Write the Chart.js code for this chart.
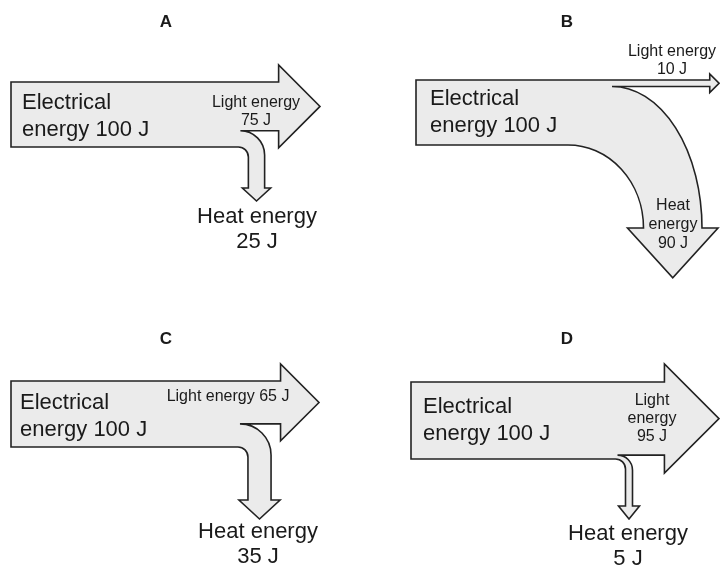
<!DOCTYPE html>
<html lang="en">
<head>
<meta charset="UTF-8">
<title>Energy transfer diagrams</title>
<script src="https://cdn.jsdelivr.net/npm/chart.js@4.4.0/dist/chart.umd.min.js"></script>
<style>
  html, body { margin: 0; padding: 0; background: #fff; }
  #wrap { width: 720px; height: 569px; position: relative; }
</style>
</head>
<body>
<div id="wrap"><canvas id="energyChart"></canvas></div>
<script>
// values (joules)
var titles = ["A", "B", "C", "D"];
var inputEnergy = [100, 100, 100, 100];
var lightEnergy = [75, 10, 65, 95];
var heatEnergy = [25, 90, 35, 5];
// how many lines each label is broken into
var lightLines = [2, 2, 1, 3];
var heatLines = [2, 3, 2, 2];

function labelLines(name, value, n) {
  if (n === 1) return [name + " energy " + value + " J"];
  if (n === 2) return [name + " energy", value + " J"];
  return [name, "energy", value + " J"];
}

// where each diagram sits, in chart units (x 0..720, y 0..569)
var layout = [
  { kind: "split", x0: 11, y0: 82, thick: 65, tipX: 320, flare: 17,
    heatCX: 256.5, heatEnd: 188, heatHead: 13, heatFlare: 6,
    title: [166, 21], inText: [22, 109], lightText: [256, 107, 16], heatText: [257, 223, 22] },
  { kind: "curve", x0: 416, y0: 80, thick: 65, tipX: 719, flare: 6,
    splitX: 612, bendX: 568, heatRight: 702, heatEnd: 228, heatFlare: 16,
    title: [567, 21], inText: [430, 105], lightText: [672, 56, 16], heatText: [673, 210, 16] },
  { kind: "split", x0: 11, y0: 381, thick: 66, tipX: 319, flare: 17,
    heatCX: 259.5, heatEnd: 500, heatHead: 19, heatFlare: 9,
    title: [166, 338], inText: [20, 409], lightText: [228, 401, 16], heatText: [258, 538, 22] },
  { kind: "split", x0: 411, y0: 382, thick: 77, tipX: 719, flare: 18,
    heatCX: 629, heatEnd: 506, heatHead: 13, heatFlare: 7,
    title: [567, 338], inText: [423, 413], lightText: [652, 405, 16], heatText: [628, 540, 22] }
];

var FONT = "'Liberation Sans', Arial, Helvetica, sans-serif";
var minShaft = 7;

var arrowPlugin = {
  id: "energyArrows",
  afterDraw: function (chart) {
    var ctx = chart.ctx, sx = chart.scales.x, sy = chart.scales.y;
    function X(v) { return sx.getPixelForValue(v); }
    function Y(v) { return sy.getPixelForValue(v); }
    function quarter(cx, cy, rx, ry, a0, a1, ccw) {
      ctx.ellipse(X(cx), Y(cy), Math.abs(X(cx + rx) - X(cx)), Math.abs(Y(cy + ry) - Y(cy)), 0, a0, a1, ccw);
    }
    function text(lines, x, y, size, lh, align, bold) {
      ctx.font = (bold ? "bold " : "") + size + "px " + FONT;
      ctx.textAlign = align;
      ctx.textBaseline = "alphabetic";
      ctx.fillStyle = "#1a1a1a";
      for (var k = 0; k < lines.length; k++) {
        ctx.fillText(lines[k], X(x), Y(y + k * lh));
      }
    }

    ctx.save();
    for (var i = 0; i < layout.length; i++) {
      var p = layout[i];
      var perJ = p.thick / inputEnergy[i];
      var L = lightEnergy[i] * perJ;
      var H = Math.max(heatEnergy[i] * perJ, minShaft);
      var yL = p.y0 + L, yB = p.y0 + p.thick;

      ctx.beginPath();
      if (p.kind === "split") {
        var xHead = p.tipX - (L / 2 + p.flare);
        var xl = p.heatCX - H / 2, xr = p.heatCX + H / 2;
        var R = H + 8, r = 10;
        ctx.moveTo(X(p.x0), Y(p.y0));
        ctx.lineTo(X(xHead), Y(p.y0));
        ctx.lineTo(X(xHead), Y(p.y0 - p.flare));
        ctx.lineTo(X(p.tipX), Y(p.y0 + L / 2));
        ctx.lineTo(X(xHead), Y(yL + p.flare));
        ctx.lineTo(X(xHead), Y(yL));
        ctx.lineTo(X(xr - R), Y(yL));
        quarter(xr - R, yL + R, R, R, -Math.PI / 2, 0, false);
        ctx.lineTo(X(xr), Y(p.heatEnd));
        ctx.lineTo(X(xr + p.heatFlare), Y(p.heatEnd));
        ctx.lineTo(X(p.heatCX), Y(p.heatEnd + p.heatHead));
        ctx.lineTo(X(xl - p.heatFlare), Y(p.heatEnd));
        ctx.lineTo(X(xl), Y(p.heatEnd));
        ctx.lineTo(X(xl), Y(yB + r));
        quarter(xl - r, yB + r, r, r, 0, -Math.PI / 2, true);
        ctx.lineTo(X(p.x0), Y(yB));
      } else {
        var xHeadB = p.tipX - (L / 2 + p.flare);
        var hr = p.heatRight, hl = hr - H, hc = hr - H / 2;
        var len = (H / 2 + p.heatFlare) * 1.1;
        ctx.moveTo(X(p.x0), Y(p.y0));
        ctx.lineTo(X(xHeadB), Y(p.y0));
        ctx.lineTo(X(xHeadB), Y(p.y0 - p.flare));
        ctx.lineTo(X(p.tipX), Y(p.y0 + L / 2));
        ctx.lineTo(X(xHeadB), Y(yL + p.flare));
        ctx.lineTo(X(xHeadB), Y(yL));
        ctx.lineTo(X(p.splitX), Y(yL));
        quarter(p.splitX, p.heatEnd, hr - p.splitX, p.heatEnd - yL, -Math.PI / 2, 0, false);
        ctx.lineTo(X(hr + p.heatFlare), Y(p.heatEnd));
        ctx.lineTo(X(hc), Y(p.heatEnd + len));
        ctx.lineTo(X(hl - p.heatFlare), Y(p.heatEnd));
        ctx.lineTo(X(hl), Y(p.heatEnd));
        quarter(p.bendX, p.heatEnd, hl - p.bendX, p.heatEnd - yB, 0, -Math.PI / 2, true);
        ctx.lineTo(X(p.x0), Y(yB));
      }
      ctx.closePath();
      ctx.fillStyle = "#ebebeb";
      ctx.fill();
      ctx.lineWidth = 1.6;
      ctx.lineJoin = "miter";
      ctx.strokeStyle = "#222";
      ctx.stroke();

      text([titles[i]], p.title[0], p.title[1] + 6, 17, 0, "center", true);
      text(["Electrical", "energy " + inputEnergy[i] + " J"], p.inText[0], p.inText[1], 22, 27, "left");
      var ls = p.lightText[2], hs = p.heatText[2];
      text(labelLines("Light", lightEnergy[i], lightLines[i]), p.lightText[0], p.lightText[1], ls, 18, "center");
      text(labelLines("Heat", heatEnergy[i], heatLines[i]), p.heatText[0], p.heatText[1], hs, hs > 18 ? 25 : 19, "center");
    }
    ctx.restore();
  }
};

new Chart(document.getElementById("energyChart"), {
  type: "scatter",
  data: { datasets: [] },
  options: {
    responsive: true,
    maintainAspectRatio: false,
    animation: false,
    layout: { padding: 0 },
    plugins: { legend: { display: false }, tooltip: { enabled: false } },
    scales: {
      x: { type: "linear", min: 0, max: 720, display: false },
      y: { type: "linear", min: 0, max: 569, reverse: true, display: false }
    }
  },
  plugins: [arrowPlugin]
});
</script>
</body>
</html>
